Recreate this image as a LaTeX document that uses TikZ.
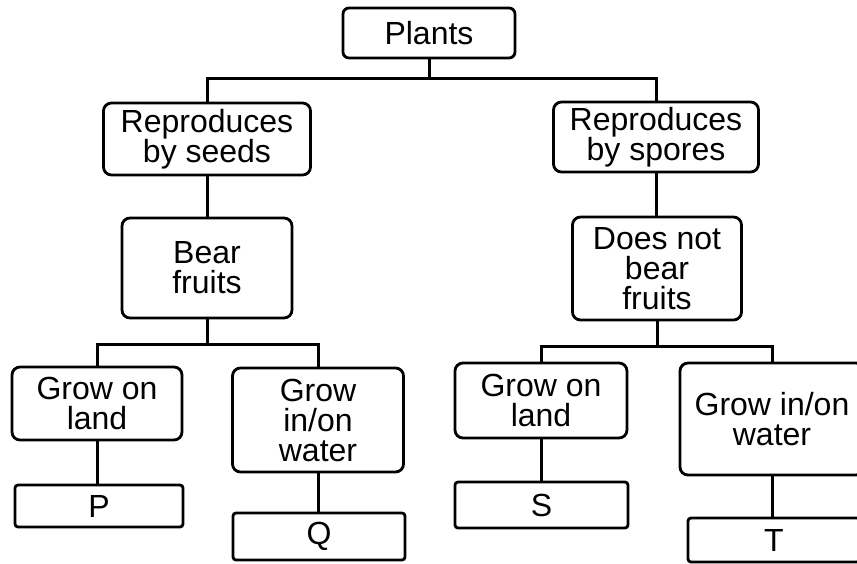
\documentclass[tikz,border=0pt]{standalone}
\usepackage{fontspec}
\setmainfont{Liberation Sans}
\begin{document}
\begin{tikzpicture}[x=1pt,y=-1pt,
  bigbox/.style={draw, line width=2.8pt, rounded corners=8pt, align=center, inner sep=0pt,
     font=\fontsize{32}{30}\selectfont},
  leafbox/.style={bigbox, rounded corners=3pt},
  conn/.style={line width=3pt}]
\path[use as bounding box, clip] (0,0) rectangle (857,563);
\fill[white] (0,0) rectangle (857,563);
% nodes
\node[bigbox, rounded corners=6pt, minimum width=172pt, minimum height=50pt] (plants) at (429,33) {Plants};
\node[bigbox, minimum width=207pt, minimum height=72pt] (rseeds) at (207,139) {Reproduces\\by seeds};
\node[bigbox, minimum width=205pt, minimum height=70pt] (rspores) at (656,137) {Reproduces\\by spores};
\node[bigbox, minimum width=170pt, minimum height=100pt] (bear) at (207,268) {Bear\\fruits};
\node[bigbox, minimum width=169pt, minimum height=103pt] (dnbf) at (657,268.5) {Does not\\bear\\fruits};
\node[bigbox, minimum width=170pt, minimum height=73pt] (gl1) at (97,403.5) {Grow on\\land};
\node[bigbox, minimum width=171pt, minimum height=104pt] (gw1) at (318,420) {Grow\\in/on\\water};
\node[bigbox, minimum width=172pt, minimum height=75pt] (gl2) at (541,400.5) {Grow on\\land};
\node[bigbox, minimum width=184pt, minimum height=112pt] (gw2) at (772,419) {Grow in/on\\water};
\node[leafbox, minimum width=168pt, minimum height=42pt] (p) at (99,506) {P};
\node[leafbox, minimum width=172pt, minimum height=47pt] (q) at (319,536.5) {Q};
\node[leafbox, minimum width=173pt, minimum height=46pt] (s) at (541.5,505) {S};
\node[leafbox, minimum width=172pt, minimum height=44pt] (t) at (774,540) {T};
% connectors
\draw[conn] (plants.south) -- ++(0,19) -| (rseeds.north);
\draw[conn] (plants.south) ++(0,19) -| (rspores.north);
\draw[conn] (rseeds.south) -- (rseeds.south |- bear.north);
\draw[conn] (rspores.south) -- (rspores.south |- dnbf.north);
\draw[conn] (bear.south) -- ++(0,25) -| (gl1.north);
\draw[conn] (bear.south) ++(0,25) -| (gw1.north);
\draw[conn] (dnbf.south) -- ++(0,25) -| (gl2.north);
\draw[conn] (dnbf.south) ++(0,25) -| (gw2.north);
\draw[conn] (gl1.south) -- (gl1.south |- p.north);
\draw[conn] (gw1.south) -- (gw1.south |- q.north);
\draw[conn] (gl2.south) -- (gl2.south |- s.north);
\draw[conn] (gw2.south) -- (gw2.south |- t.north);
\end{tikzpicture}
\end{document}
